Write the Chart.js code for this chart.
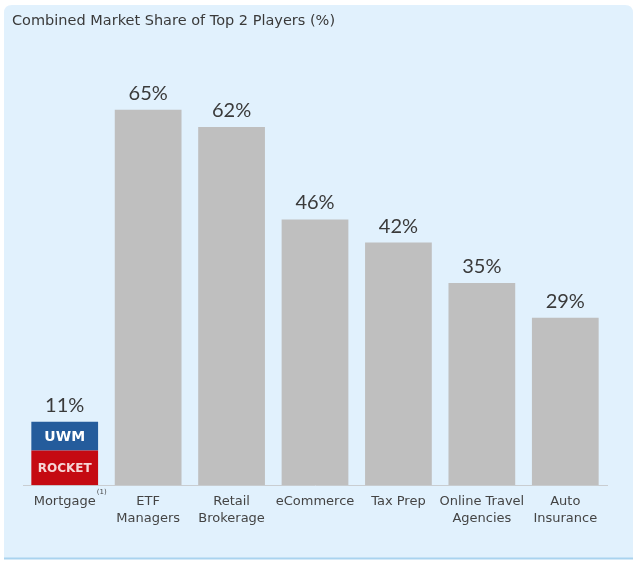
<!DOCTYPE html>
<html>
<head>
<meta charset="utf-8">
<script src="https://cdn.jsdelivr.net/npm/chart.js@4.4.1/dist/chart.umd.min.js"></script>
<style>
  html, body { margin: 0; padding: 0; background: #ffffff; }
  #wrap { width: 635px; height: 561px; position: relative; }
</style>
</head>
<body>
<div id="wrap"><canvas id="c" width="635" height="561"></canvas></div>
<script>
// Categories (tick labels, multi-line where the label wraps)
const categories = [
  ['Mortgage'],
  ['ETF', 'Managers'],
  ['Retail', 'Brokerage'],
  ['eCommerce'],
  ['Tax Prep'],
  ['Online Travel', 'Agencies'],
  ['Auto', 'Insurance']
];
// Combined share of the top two players, in %
const combinedShare = [11, 65, 62, 46, 42, 35, 29];
// Mortgage split between its two leaders
const rocketShare = [6, null, null, null, null, null, null];
const uwmShare    = [5, null, null, null, null, null, null];
// Other industries (grey bars)
const otherShare  = [null, 65, 62, 46, 42, 35, 29];

const chartTitle = 'Combined Market Share of Top 2 Players (%)';
const TICK_FONT = '13px "DejaVu Sans"';

const panelPlugin = {
  id: 'panel',
  beforeDraw(chart) {
    const ctx = chart.ctx;
    ctx.save();
    ctx.fillStyle = '#ffffff';
    ctx.fillRect(0, 0, chart.width, chart.height);
    const x = 4, y = 5, w = 629, h = 553, r = 8;
    ctx.beginPath();
    ctx.moveTo(x + r, y);
    ctx.lineTo(x + w - r, y);
    ctx.quadraticCurveTo(x + w, y, x + w, y + r);
    ctx.lineTo(x + w, y + h);
    ctx.lineTo(x, y + h);
    ctx.lineTo(x, y + r);
    ctx.quadraticCurveTo(x, y, x + r, y);
    ctx.closePath();
    ctx.fillStyle = '#e1f1fd';
    ctx.fill();
    ctx.strokeStyle = '#a9d3ef';
    ctx.lineWidth = 2;
    ctx.beginPath();
    ctx.moveTo(x, y + h + 0.5);
    ctx.lineTo(x + w, y + h + 0.5);
    ctx.stroke();
    // title
    ctx.fillStyle = '#3a3a3a';
    ctx.font = '14.5px "DejaVu Sans"';
    ctx.textBaseline = 'middle';
    ctx.textAlign = 'left';
    ctx.fillText(chartTitle, 12, 21);
    ctx.restore();
  }
};

const labelPlugin = {
  id: 'valueLabels',
  afterDatasetsDraw(chart) {
    const ctx = chart.ctx;
    const xs = chart.scales.x, ys = chart.scales.y;
    ctx.save();
    // value labels above each bar
    ctx.fillStyle = '#3a3a3a';
    ctx.font = '20px Lato';
    ctx.textAlign = 'center';
    ctx.textBaseline = 'alphabetic';
    combinedShare.forEach((v, i) => {
      const px = xs.getPixelForValue(i);
      const py = ys.getPixelForValue(v);
      ctx.fillText(v + '%', px, py - 10);
    });
    // names on the mortgage segments
    const rocketBar = chart.getDatasetMeta(0).data[0];
    const uwmBar = chart.getDatasetMeta(1).data[0];
    ctx.textBaseline = 'middle';
    ctx.font = 'bold 14px "DejaVu Sans"';
    ctx.fillStyle = '#ffffff';
    ctx.fillText('UWM', uwmBar.x, (uwmBar.y + uwmBar.base) / 2 + 1);
    ctx.font = 'bold 12px "DejaVu Sans"';
    ctx.fillStyle = '#f6d6d6';
    ctx.fillText('ROCKET', rocketBar.x, (rocketBar.y + rocketBar.base) / 2 + 1);
    // footnote marker after "Mortgage"
    ctx.font = TICK_FONT;
    const w = ctx.measureText(categories[0][0]).width;
    ctx.font = '7px "DejaVu Sans"';
    ctx.fillStyle = '#444444';
    ctx.textAlign = 'left';
    ctx.fillText('(1)', xs.getPixelForValue(0) + w / 2 + 1, ys.getPixelForValue(0) + 7);
    ctx.restore();
  }
};

new Chart(document.getElementById('c'), {
  type: 'bar',
  data: {
    labels: categories,
    datasets: [
      { label: 'Rocket', data: rocketShare, backgroundColor: '#c50a12' },
      { label: 'UWM', data: uwmShare, backgroundColor: '#245c9c' },
      { label: 'Other', data: otherShare, backgroundColor: '#bfbfbf' }
    ]
  },
  options: {
    responsive: false,
    animation: false,
    devicePixelRatio: 1,
    layout: { padding: { left: 23, right: 28, top: 23, bottom: 26 } },
    datasets: { bar: { categoryPercentage: 0.8, barPercentage: 1.0, borderWidth: 0 } },
    plugins: {
      legend: { display: false },
      tooltip: { enabled: false },
      title: { display: false }
    },
    scales: {
      x: {
        stacked: true,
        grid: { display: false, drawTicks: false },
        border: { display: true, color: '#c9cdd1', width: 1 },
        ticks: {
          color: '#444444',
          font: { family: 'DejaVu Sans', size: 13, lineHeight: 1.3 },
          padding: 8,
          maxRotation: 0,
          autoSkip: false
        }
      },
      y: {
        stacked: true,
        display: false,
        min: 0,
        max: 80
      }
    }
  },
  plugins: [panelPlugin, labelPlugin]
});
</script>
</body>
</html>
